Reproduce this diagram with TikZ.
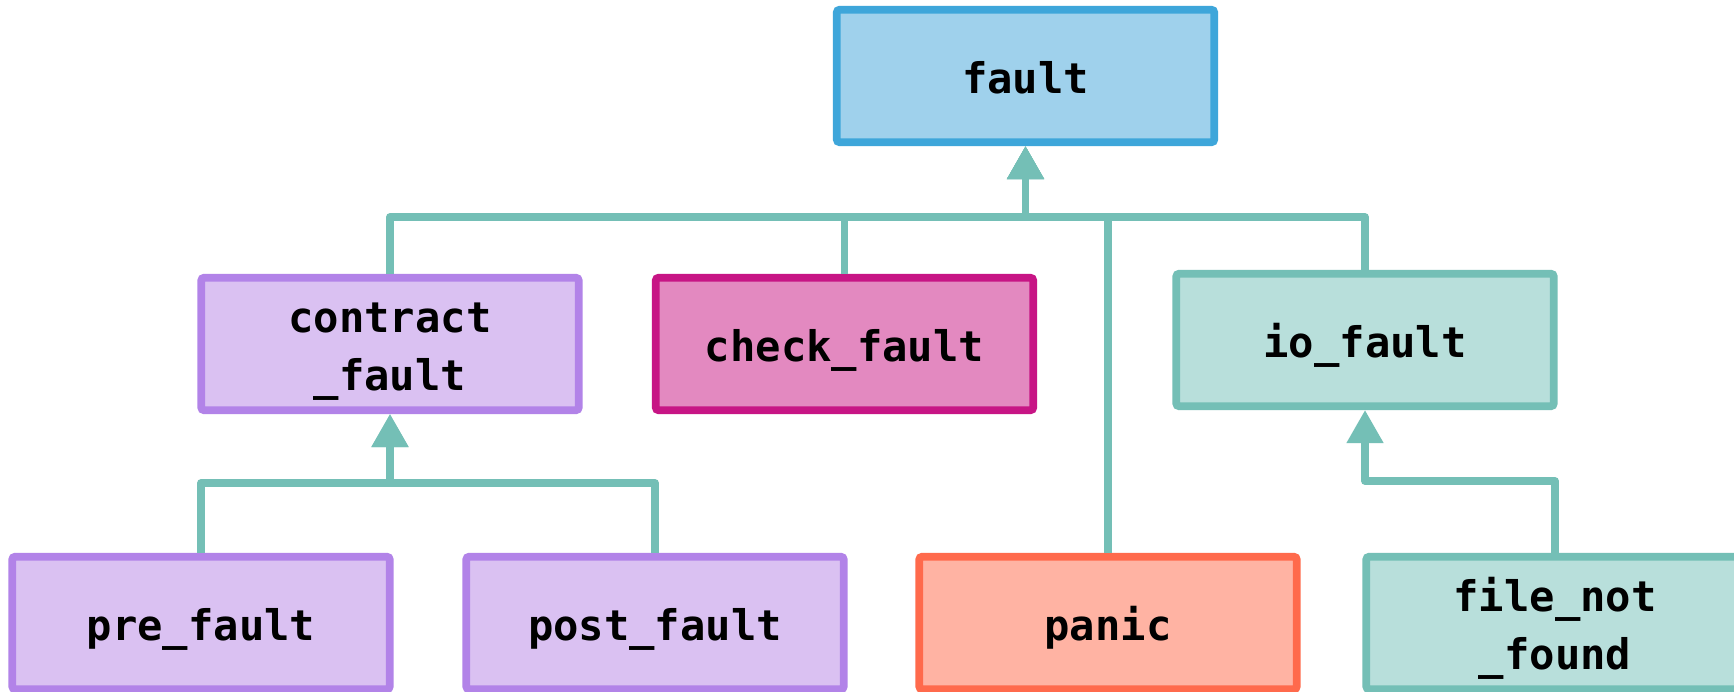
\documentclass[tikz,border=0pt]{standalone}
\usepackage{fontspec}
\setmonofont{DejaVu Sans Mono}
\usepackage{xcolor}
\usepackage{tikz}
\usetikzlibrary{arrows.meta}

\definecolor{faultfill}{HTML}{9FD1EC}
\definecolor{faultline}{HTML}{3EA6DA}
\definecolor{contractfill}{HTML}{DAC1F2}
\definecolor{contractline}{HTML}{B283E8}
\definecolor{checkfill}{HTML}{E389C0}
\definecolor{checkline}{HTML}{C71585}
\definecolor{iofill}{HTML}{B8DFDB}
\definecolor{ioline}{HTML}{74BFB6}
\definecolor{panicfill}{HTML}{FFB3A3}
\definecolor{panicline}{HTML}{FF6A4C}

% struts so that every label sits at the same height in its box
\newcommand\topstrut{\rule{0pt}{26.5pt}}
\newcommand\botstrut{\rule[-7pt]{0pt}{7pt}}

\begin{document}
\begin{tikzpicture}[
  box/.style={draw, line width=4.3pt, rounded corners=1.5pt,
    minimum width=7.55cm, minimum height=2.65cm, align=center,
    font=\ttfamily\bfseries\fontsize{24}{33}\selectfont},
  link/.style={draw=ioline, line width=4.3pt, line join=round,
    -{Triangle[width=0.7cm,length=0.66cm]}}]
  \useasboundingbox[fill=white] (0,0) rectangle (34.68,13.84);

  % top level
  \node[box, draw=faultline, fill=faultfill] (fault) at (20.51,12.32) {\topstrut fault\botstrut};

  % middle row
  \node[box, draw=contractline, fill=contractfill] (contract) at (7.8,6.96) {\topstrut contract\\\_fault\botstrut};
  \node[box, draw=checkline, fill=checkfill] (check) at (16.89,6.96) {\topstrut check\_fault\botstrut};
  \node[box, draw=ioline, fill=iofill] (io) at (27.3,7.04) {\topstrut io\_fault\botstrut};

  % bottom row
  \node[box, draw=contractline, fill=contractfill] (pre) at (4.02,1.38) {\topstrut pre\_fault\botstrut};
  \node[box, draw=contractline, fill=contractfill] (post) at (13.1,1.38) {\topstrut post\_fault\botstrut};
  \node[box, draw=panicline, fill=panicfill] (panic) at (22.16,1.38) {\topstrut panic\botstrut};
  \node[box, draw=ioline, fill=iofill] (file) at (31.1,1.38) {\topstrut file\_not\\\_found\botstrut};

  % buses
  \coordinate (topbus) at (0,9.5);
  \coordinate (leftbus) at (0,4.18);
  \coordinate (rightbus) at (0,4.22);

  \draw[link] (contract.north) -- (contract.north |- topbus) -| (fault.south);
  \draw[link] (check.north) -- (check.north |- topbus) -| (fault.south);
  \draw[link] (panic.north) -- (panic.north |- topbus) -| (fault.south);
  \draw[link] (io.north) -- (io.north |- topbus) -| (fault.south);

  \draw[link] (pre.north) -- (pre.north |- leftbus) -| (contract.south);
  \draw[link] (post.north) -- (post.north |- leftbus) -| (contract.south);
  \draw[link] (file.north) -- (file.north |- rightbus) -| (io.south);
\end{tikzpicture}
\end{document}
